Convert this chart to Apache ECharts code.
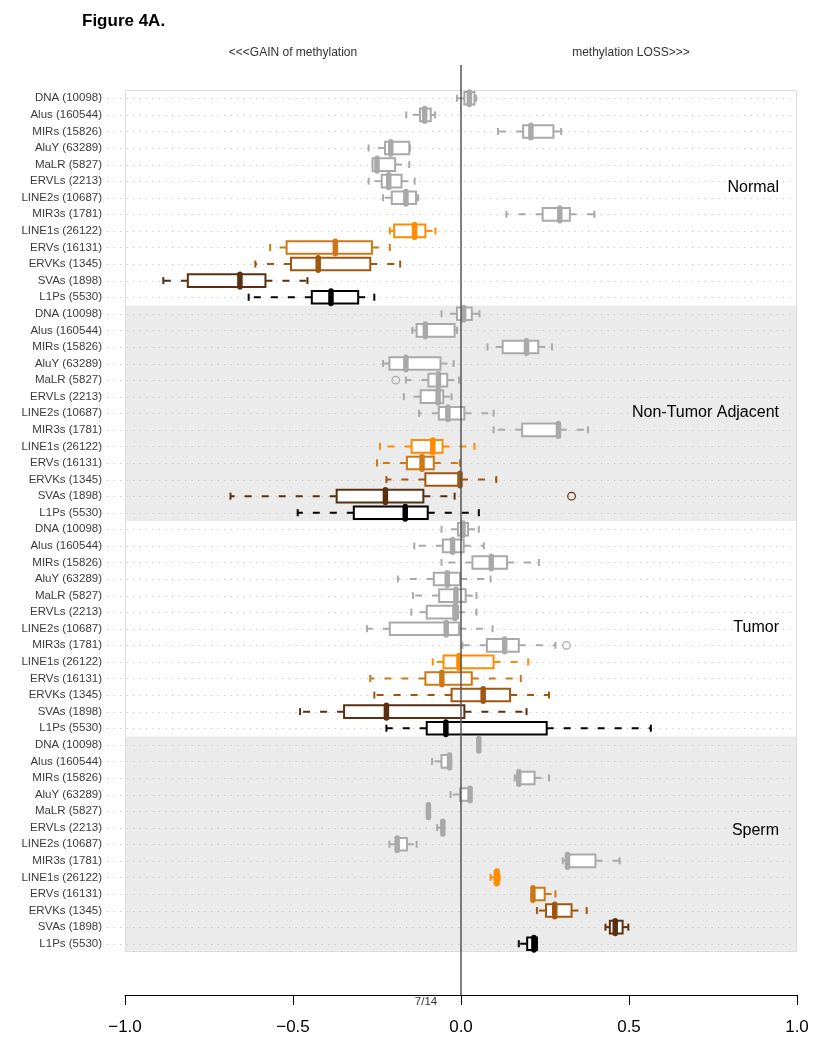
<!DOCTYPE html>
<html>
<head>
<meta charset="utf-8">
<script src="https://cdn.jsdelivr.net/npm/echarts@6/dist/echarts.min.js"></script>
<style>
html,body{margin:0;padding:0;background:#fff;}
#chart{width:832px;height:1050px;}
</style>
</head>
<body>
<div id="chart"></div>
<script>
const categories = ["DNA (10098)","Alus (160544)","MIRs (15826)","AluY (63289)","MaLR (5827)","ERVLs (2213)","LINE2s (10687)","MIR3s (1781)","LINE1s (26122)","ERVs (16131)","ERVKs (1345)","SVAs (1898)","L1Ps (5530)"];
const panels = ["Normal","Non-Tumor Adjacent","Tumor","Sperm"];
const xTicks = [-1.0, -0.5, 0.0, 0.5, 1.0];
// each row: [lower whisker, Q1, median, Q3, upper whisker]
const normalStats = [
  [-0.012, 0.01, 0.025, 0.04, 0.045],
  [-0.163, -0.122, -0.108, -0.09, -0.077],
  [0.11, 0.185, 0.208, 0.275, 0.298],
  [-0.275, -0.226, -0.209, -0.154, -0.152],
  [-0.263, -0.263, -0.25, -0.196, -0.154],
  [-0.275, -0.236, -0.215, -0.177, -0.138],
  [-0.232, -0.206, -0.164, -0.134, -0.128],
  [0.135, 0.243, 0.294, 0.324, 0.397],
  [-0.212, -0.199, -0.138, -0.106, -0.076],
  [-0.568, -0.519, -0.374, -0.265, -0.212],
  [-0.612, -0.506, -0.425, -0.27, -0.181],
  [-0.886, -0.813, -0.658, -0.582, -0.457],
  [-0.632, -0.444, -0.387, -0.306, -0.258]
];
const adjacentStats = [
  [-0.058, -0.012, 0.008, 0.032, 0.055],
  [-0.145, -0.132, -0.106, -0.019, -0.012],
  [0.079, 0.124, 0.195, 0.23, 0.271],
  [-0.232, -0.213, -0.164, -0.061, -0.022],
  [-0.164, -0.097, -0.067, -0.041, -0.006],
  [-0.17, -0.12, -0.068, -0.053, -0.028],
  [-0.125, -0.066, -0.039, 0.01, 0.097],
  [0.097, 0.182, 0.29, 0.294, 0.378],
  [-0.241, -0.147, -0.084, -0.055, 0.04],
  [-0.25, -0.161, -0.116, -0.081, -0.003],
  [-0.222, -0.106, -0.003, 0.0, 0.105],
  [-0.686, -0.37, -0.225, -0.112, -0.019],
  [-0.486, -0.319, -0.166, -0.099, 0.053]
];
const tumorStats = [
  [-0.058, -0.009, 0.006, 0.021, 0.053],
  [-0.139, -0.054, -0.025, 0.008, 0.068],
  [-0.058, 0.034, 0.09, 0.137, 0.232],
  [-0.188, -0.081, -0.041, -0.003, 0.088],
  [-0.143, -0.065, -0.015, 0.014, 0.046],
  [-0.148, -0.102, -0.018, -0.009, 0.046],
  [-0.28, -0.212, -0.044, -0.006, 0.094],
  [0.004, 0.077, 0.13, 0.172, 0.281],
  [-0.084, -0.052, -0.006, 0.097, 0.2],
  [-0.27, -0.106, -0.057, 0.032, 0.178],
  [-0.258, -0.028, 0.066, 0.146, 0.262],
  [-0.479, -0.348, -0.222, 0.01, 0.195],
  [-0.222, -0.102, -0.045, 0.255, 0.565]
];
const spermStats = [
  [0.05, 0.051, 0.053, 0.055, 0.056],
  [-0.086, -0.058, -0.034, -0.032, -0.03],
  [0.16, 0.172, 0.172, 0.219, 0.262],
  [-0.031, -0.003, 0.027, 0.027, 0.03],
  [-0.1, -0.098, -0.097, -0.096, -0.095],
  [-0.071, -0.058, -0.054, -0.053, -0.052],
  [-0.213, -0.19, -0.19, -0.161, -0.132],
  [0.303, 0.317, 0.317, 0.4, 0.472],
  [0.088, 0.1, 0.107, 0.112, 0.115],
  [0.212, 0.212, 0.214, 0.249, 0.281],
  [0.226, 0.253, 0.279, 0.329, 0.374],
  [0.43, 0.443, 0.459, 0.481, 0.498],
  [0.172, 0.197, 0.217, 0.226, 0.226]
];
// outliers: [panel index, category index, value]
const outliers = [
  [1, 4, -0.194],
  [1, 11, 0.329],
  [2, 7, 0.314]
];

const GRAY = '#A9A9A9';
const catColors = [GRAY,GRAY,GRAY,GRAY,GRAY,GRAY,GRAY,GRAY,'#FF8C00','#CD7817','#A0560E','#5A3010','#000000'];

const allStats = [normalStats, adjacentStats, tumorStats, spermStats];
const nCat = categories.length;
const yLabels = [];
panels.forEach((p, pi) => categories.forEach((c, ci) => yLabels.push((pi * nCat + ci) + '|' + c)));

const boxData = [];
allStats.forEach((stats, pi) => stats.forEach((s, ci) => {
  boxData.push([pi * nCat + ci, s[0], s[1], s[2], s[3], s[4], ci]);
}));
const outlierData = outliers.map(o => [o[0] * nCat + o[1], o[2], o[1]]);
const rowData = yLabels.map((l, i) => [i]);
const shadedPanels = [[nCat, 2 * nCat - 1], [3 * nCat, 4 * nCat - 1]];

const chart = echarts.init(document.getElementById('chart'), null, {renderer: 'canvas'});

function renderBackground(params, api) {
  const cs = params.coordSys;
  const band = api.size([0, 1])[1];
  const y0 = api.coord([0, api.value(0)])[1] - band / 2;
  const y1 = api.coord([0, api.value(1)])[1] + band / 2;
  return {type: 'rect', shape: {x: cs.x, y: y0, width: cs.width, height: y1 - y0}, style: {fill: '#EBEBEB'}, silent: true};
}
function renderRowLine(params, api) {
  const cs = params.coordSys;
  const y = Math.round(api.coord([0, api.value(0)])[1]) + 0.5;
  return {type: 'line', shape: {x1: cs.x - 18, y1: y, x2: cs.x + cs.width, y2: y},
    style: {stroke: '#C4C4C4', lineWidth: 1, lineDash: [1.2, 5.3]}, silent: true};
}
function renderFrame(params, api) {
  const cs = params.coordSys;
  return {type: 'rect', shape: {x: cs.x + 0.5, y: cs.y + 0.5, width: cs.width - 1, height: cs.height - 1},
    style: {fill: null, stroke: '#DDDDDD', lineWidth: 1}, silent: true};
}
function renderZero(params, api) {
  const cs = params.coordSys;
  const x = api.coord([api.value(0), 0])[0];
  return {type: 'line', shape: {x1: x, y1: cs.y - 25, x2: x, y2: cs.y + cs.height + 43},
    style: {stroke: '#555555', lineWidth: 1.5}, silent: true};
}
function renderBox(params, api) {
  const r = api.value(0);
  const color = catColors[api.value(6)];
  const band = api.size([0, 1])[1];
  const y = api.coord([0, r])[1];
  const h = band * 0.76;
  const xs = [1, 2, 3, 4, 5].map(d => api.coord([api.value(d), r])[0]);
  const dash = [7, 10];
  const children = [];
  children.push({type: 'line', shape: {x1: xs[1], y1: y, x2: xs[0], y2: y}, style: {stroke: color, lineWidth: 2, lineDash: dash}});
  children.push({type: 'line', shape: {x1: xs[3], y1: y, x2: xs[4], y2: y}, style: {stroke: color, lineWidth: 2, lineDash: dash}});
  children.push({type: 'line', shape: {x1: xs[0], y1: y - 3.5, x2: xs[0], y2: y + 3.5}, style: {stroke: color, lineWidth: 2}});
  children.push({type: 'line', shape: {x1: xs[4], y1: y - 3.5, x2: xs[4], y2: y + 3.5}, style: {stroke: color, lineWidth: 2}});
  children.push({type: 'rect', shape: {x: xs[1], y: y - h / 2, width: Math.max(xs[3] - xs[1], 0.5), height: h},
    style: {fill: '#FFFFFF', stroke: color, lineWidth: 2}});
  children.push({type: 'line', shape: {x1: xs[2], y1: y - h / 2, x2: xs[2], y2: y + h / 2},
    style: {stroke: color, lineWidth: 5.5, lineCap: 'round'}});
  return {type: 'group', children: children};
}
function renderOutlier(params, api) {
  const r = api.value(0);
  const p = api.coord([api.value(1), r]);
  return {type: 'circle', shape: {cx: p[0], cy: p[1], r: 3.8},
    style: {fill: null, stroke: catColors[api.value(2)], lineWidth: 1.2}};
}

const font = "'Liberation Sans', Arial, Helvetica, sans-serif";
const panelLabelY = [188, 413, 628, 831];

const option = {
  animation: false,
  backgroundColor: '#ffffff',
  grid: {left: 125, right: 35, top: 90, bottom: 98, containLabel: false},
  xAxis: {
    type: 'value', min: -1, max: 1, interval: 0.5, offset: 43,
    axisLine: {show: true, onZero: false, lineStyle: {color: '#000', width: 1}},
    axisTick: {show: true, inside: false, length: 10, lineStyle: {color: '#000', width: 1}},
    axisLabel: {margin: 24, fontSize: 17, color: '#000', fontFamily: font,
      formatter: v => (v < 0 ? '\u2212' : '') + Math.abs(v).toFixed(1)},
    splitLine: {show: false}
  },
  yAxis: {
    type: 'category', inverse: true, data: yLabels, boundaryGap: true,
    axisLine: {show: false}, axisTick: {show: false}, splitLine: {show: false},
    axisLabel: {interval: 0, margin: 23, fontSize: 11.5, color: '#3A3A3A', fontFamily: font,
      formatter: v => v.split('|')[1]}
  },
  graphic: [
    {type: 'text', left: 82, top: 13, style: {text: 'Figure 4A.', font: 'bold 17px ' + font, fill: '#000'}},
    {type: 'text', x: 293, y: 53, style: {text: '<<<GAIN of methylation', font: '12px ' + font, fill: '#333', textAlign: 'center', textVerticalAlign: 'middle'}},
    {type: 'text', x: 631, y: 53, style: {text: 'methylation LOSS>>>', font: '12px ' + font, fill: '#333', textAlign: 'center', textVerticalAlign: 'middle'}},
    {type: 'text', x: 426, y: 1002, z: 100, style: {text: '7/14', font: '11.5px ' + font, fill: '#333', textAlign: 'center', textVerticalAlign: 'middle'}}
  ].concat(panels.map((p, i) => ({
    type: 'text', x: 779, y: panelLabelY[i], z: 50,
    style: {text: p, font: '16px ' + font, fill: '#000', textAlign: 'right', textVerticalAlign: 'middle'}
  }))),
  series: [
    {type: 'custom', renderItem: renderBackground, data: shadedPanels, encode: {y: [0, 1]}, z: 1, silent: true},
    {type: 'custom', renderItem: renderRowLine, data: rowData, encode: {y: 0}, z: 2, silent: true},
    {type: 'custom', renderItem: renderFrame, data: [[0]], encode: {y: 0}, z: 3, silent: true},
    {type: 'custom', renderItem: renderBox, data: boxData, encode: {y: 0, x: [1, 2, 3, 4, 5]}, z: 5, silent: true},
    {type: 'custom', renderItem: renderOutlier, data: outlierData, encode: {y: 0, x: 1}, z: 6, silent: true},
    {type: 'custom', renderItem: renderZero, data: [[0]], encode: {x: 0}, z: 7, silent: true}
  ]
};
chart.setOption(option);
</script>
</body>
</html>
